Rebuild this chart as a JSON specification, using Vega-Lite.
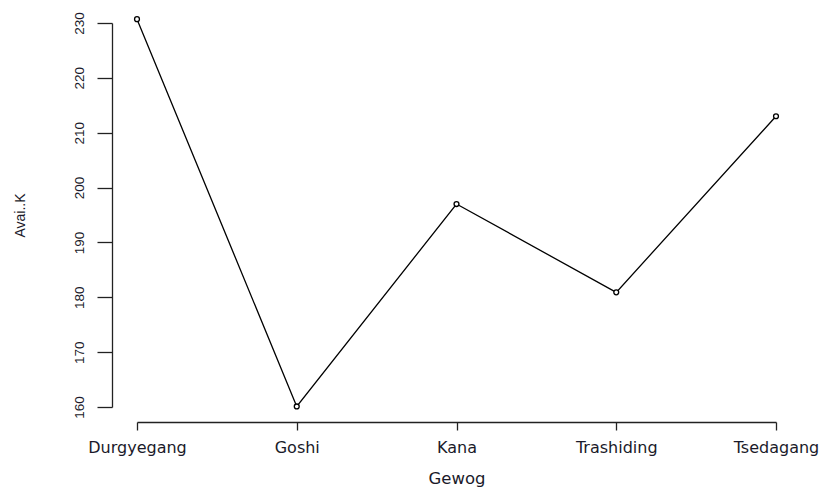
{
  "$schema": "https://vega.github.io/schema/vega-lite/v6.json",
  "autosize": {"type": "none"},
  "width": 639,
  "height": 384,
  "padding": {"left": 137, "top": 23, "right": 56, "bottom": 84},
  "background": "white",
  "config": {"view": {"stroke": null}},
  "data": {"values": [
    {"Gewog": "Durgyegang", "K": 230.7},
    {"Gewog": "Goshi", "K": 160.1},
    {"Gewog": "Kana", "K": 197},
    {"Gewog": "Trashiding", "K": 180.9},
    {"Gewog": "Tsedagang", "K": 213}
  ]},
  "encoding": {
    "x": {"field": "Gewog", "type": "nominal", "sort": null,
      "scale": {"type": "point", "padding": 0},
      "axis": {"title": "Gewog", "labelAngle": 0, "offset": 15, "tickSize": 8, "tickColor": "#222", "domainColor": "#222", "tickWidth": 1.3, "domainWidth": 1.3,
        "labelFont": "DejaVu Sans", "labelFontSize": 16, "labelColor": "#1a1a2a", "labelPadding": 9,
        "titleFont": "DejaVu Sans", "titleFontSize": 16.5, "titleFontWeight": "normal", "titleColor": "#1a1a2a", "titlePadding": 15, "grid": false}},
    "y": {"field": "K", "type": "quantitative",
      "scale": {"domain": [160, 230], "nice": false, "zero": false},
      "axis": {"title": "Avai..K", "values": [160, 170, 180, 190, 200, 210, 220, 230], "offset": 25, "tickSize": 15, "tickColor": "#222", "domainColor": "#222", "tickWidth": 1.3, "domainWidth": 1.3,
        "labelAngle": -90, "labelAlign": "center", "labelBaseline": "bottom", "labelFont": "Liberation Sans", "labelFontSize": 13.5, "labelColor": "#1a1a2a", "labelPadding": 11,
        "titleFont": "Liberation Sans", "titleFontSize": 14, "titleFontWeight": "normal", "titleColor": "#1a1a2a", "titlePadding": 45, "grid": false}}
  },
  "layer": [
    {"mark": {"type": "line", "color": "black", "strokeWidth": 1.3}},
    {"mark": {"type": "point", "shape": "circle", "size": 24, "filled": false, "color": "black", "strokeWidth": 1.3, "fill": "white", "fillOpacity": 1}}
  ]
}
